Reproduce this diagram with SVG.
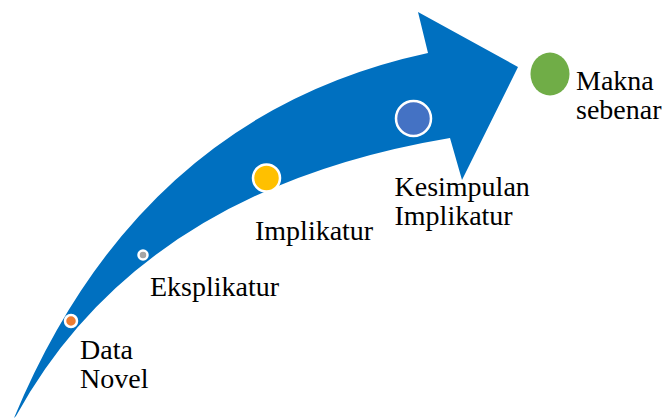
<svg xmlns="http://www.w3.org/2000/svg" width="668" height="419" viewBox="0 0 668 419">
<style>
.dot{stroke:#fff;stroke-width:2.5}
text{font-family:Liberation Serif, serif;font-size:28px;fill:#000}
</style>
<rect width="668" height="419" fill="#fff"/>
<g id="connectors">
<path id="arrow" d="M14,418 Q140,115 428,53 L418,12 L518,67 L462,180 L450,138 Q140,190 16,416 Z" fill="#0070C0"/>
</g>
<g id="node-data">
<circle class="dot" cx="71" cy="321" r="6" fill="#ED7D31"/>
<text x="80" y="359">Data</text>
<text x="80" y="388">Novel</text>
</g>
<g id="node-eksplikatur">
<circle class="dot" cx="143" cy="255" r="4.5" fill="#A5A5A5" stroke-width="2"/>
<text x="150" y="296">Eksplikatur</text>
</g>
<g id="node-implikatur">
<circle class="dot" cx="266.5" cy="178" r="13.5" fill="#FFC000"/>
<text x="255" y="239.5">Implikatur</text>
</g>
<g id="node-kesimpulan">
<circle class="dot" cx="413.5" cy="118.5" r="17.5" fill="#4472C4"/>
<text x="394.5" y="195.5">Kesimpulan</text>
<text x="394.5" y="225">Implikatur</text>
</g>
<g id="node-makna">
<ellipse cx="550" cy="74" rx="19.5" ry="21.5" fill="#70AD47"/>
<text x="576" y="90">Makna</text>
<text x="576" y="119">sebenar</text>
</g>
</svg>
